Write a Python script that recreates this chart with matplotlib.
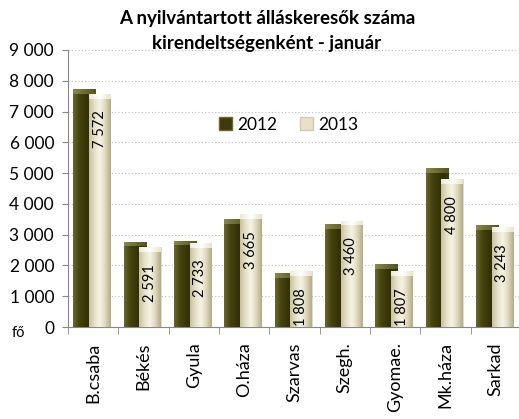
import matplotlib
matplotlib.use("Agg")
import matplotlib.pyplot as plt
import matplotlib.patches as mpatches
import numpy as np
from matplotlib.colors import LinearSegmentedColormap

plt.rcParams['font.family'] = ['Lato', 'DejaVu Sans']

# data
offices = ['B.csaba', 'Békés', 'Gyula', 'O.háza', 'Szarvas', 'Szegh.', 'Gyomae.', 'Mk.háza', 'Sarkad']
jan_2012 = [7730, 2770, 2800, 3500, 1740, 3350, 2050, 5150, 3300]
jan_2013 = [7572, 2591, 2733, 3665, 1808, 3460, 1807, 4800, 3243]
series_names = ['2012', '2013']
yticks = [0, 1000, 2000, 3000, 4000, 5000, 6000, 7000, 8000, 9000]


def fmt(v):
    return '{:,}'.format(v).replace(',', ' ')


# cylinder-ish shading for each series
dark_cmap = LinearSegmentedColormap.from_list('dk', ['#6a6830', '#46440f', '#3a3808', '#2f2d04', '#3a3810'])
light_cmap = LinearSegmentedColormap.from_list('lt', ['#c9c2a0', '#e6e1c8', '#f6f4e6', '#ddd7bb', '#b3ab86'])
cap_dark = LinearSegmentedColormap.from_list('cd', ['#8a8850', '#6d6b38', '#55531f'])
cap_light = LinearSegmentedColormap.from_list('cl', ['#eeebd8', '#ffffff', '#e8e4cc'])


def shade_bars(ax, bars, cmap, capmap):
    grad = np.linspace(0, 1, 64).reshape(1, -1)
    for b in bars:
        x0, y0 = b.get_x(), b.get_y()
        w, h = b.get_width(), b.get_height()
        im = ax.imshow(grad, cmap=cmap, aspect='auto', extent=(x0, x0 + w, y0, y0 + h),
                       zorder=b.get_zorder() + 0.1, interpolation='bicubic')
        im.set_clip_path(b)
        # lighter cap on top of each bar
        cap = ax.imshow(grad, cmap=capmap, aspect='auto', extent=(x0, x0 + w, y0 + h - 150, y0 + h),
                        zorder=b.get_zorder() + 0.2, interpolation='bicubic')
        cap.set_clip_path(b)


fig = plt.figure(figsize=(5.19, 4.19), dpi=100)
ax = fig.add_axes([68 / 519, 92 / 419, 453 / 519, 277 / 419])

x = np.arange(len(offices))

# soft shadow behind the light bars
ax.bar(x + 0.15, jan_2013, width=0.42, color='#b9b9b0', alpha=0.5, zorder=2)
b12 = ax.bar(x - 0.17, jan_2012, width=0.45, color='#3d3b0a', zorder=3, label=series_names[0])
b13 = ax.bar(x + 0.13, jan_2013, width=0.42, color='#e2dcc2', zorder=4, label=series_names[1])
shade_bars(ax, b12, dark_cmap, cap_dark)
shade_bars(ax, b13, light_cmap, cap_light)

# data labels inside the 2013 bars
for xi, v in zip(x, jan_2013):
    ax.annotate(fmt(v), (xi + 0.13, v), xytext=(0, -12), textcoords='offset points',
                rotation=90, ha='center', va='top', fontsize=10.5, color='black', zorder=6)

ax.set_xlim(-0.5, len(offices) - 0.5)
ax.set_ylim(0, 9000)
ax.set_yticks(yticks)
ax.set_yticklabels([fmt(t) for t in yticks], fontsize=12.5)
ax.set_xticks(x)
ax.set_xticklabels(offices, rotation=90, fontsize=13)
ax.set_xticks(np.arange(len(offices) + 1) - 0.5, minor=True)
ax.tick_params(axis='x', which='major', length=0, pad=11)
ax.tick_params(axis='x', which='minor', length=5, color='#888888')
ax.tick_params(axis='y', length=4, color='#888888', pad=6)

ax.yaxis.grid(True, linestyle=(0, (1, 2)), color='#bdbdbd', linewidth=0.8)
ax.set_axisbelow(True)
for s in ['top', 'right']:
    ax.spines[s].set_visible(False)
ax.spines['left'].set_color('#888888')
ax.spines['bottom'].set_color('#888888')

handles = [mpatches.Patch(facecolor='#3d3b0a', edgecolor='#6a6830'),
           mpatches.Patch(facecolor='#e6e1c8', edgecolor='#d0cab0')]
ax.legend(handles, series_names, loc='center', bbox_to_anchor=(0.487, 0.73), ncol=2,
          frameon=False, fontsize=12.5, handlelength=0.75, handleheight=0.75,
          handletextpad=0.3, columnspacing=1.3)

fig.text(267 / 519, 1 - 10 / 419, 'A nyilvántartott álláskeresők száma\nkirendeltségenként - január',
         ha='center', va='top', fontsize=13.5, fontweight='bold', linespacing=1.55)
fig.text(12 / 519, 1 - 333 / 419, 'fő', ha='left', va='center', fontsize=10.5)

fig.savefig('out.png', dpi=100)
